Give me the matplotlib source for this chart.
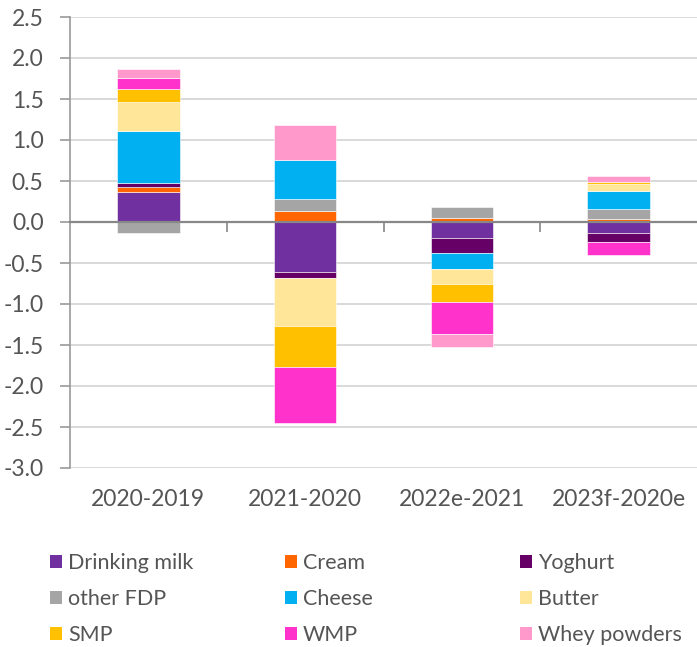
import matplotlib
matplotlib.use("Agg")
import matplotlib.pyplot as plt
from matplotlib.patches import Patch
import numpy as np

plt.rcParams['font.family'] = ['Lato', 'DejaVu Sans']

categories = ["2020-2019", "2021-2020", "2022e-2021", "2023f-2020e"]
series_names = ["Drinking milk", "Cream", "Yoghurt", "other FDP", "Cheese",
                "Butter", "SMP", "WMP", "Whey powders"]
drinking_milk = [0.37, -0.606, -0.199, -0.138]
cream = [0.057, 0.138, 0.053, 0.037]
yoghurt = [0.053, -0.081, -0.183, -0.106]
other_fdp = [-0.13, 0.139, 0.126, 0.122]
cheese = [0.63, 0.483, -0.191, 0.219]
butter = [0.353, -0.578, -0.179, 0.082]
smp = [0.155, -0.507, -0.22, 0.028]
wmp = [0.138, -0.683, -0.394, -0.158]
whey = [0.106, 0.427, -0.162, 0.077]
series_values = [drinking_milk, cream, yoghurt, other_fdp, cheese,
                 butter, smp, wmp, whey]
colors = ["#7030A0", "#FF6600", "#660066", "#A5A5A5", "#00B0F0",
          "#FFE699", "#FFC000", "#FF33CC", "#FF99CC"]
yticks = [2.5, 2.0, 1.5, 1.0, 0.5, 0.0, -0.5, -1.0, -1.5, -2.0, -2.5, -3.0]

text_color = "#555555"
fig = plt.figure(figsize=(6.97, 6.47), dpi=100)
ax = fig.add_axes([70/697, 1 - 468/647, 1 - 70/697, (468 - 17)/647])

x = np.arange(len(categories))
pos_bottom = np.zeros(len(categories))
neg_bottom = np.zeros(len(categories))
for name, vals, c in zip(series_names, series_values, colors):
    v = np.array(vals, dtype=float)
    bottoms = np.where(v >= 0, pos_bottom, neg_bottom)
    ax.bar(x, v, width=0.4, bottom=bottoms, color=c, edgecolor="white",
           linewidth=0.4, zorder=3)
    pos_bottom = pos_bottom + np.where(v >= 0, v, 0)
    neg_bottom = neg_bottom + np.where(v < 0, v, 0)

ax.set_xlim(-0.5, len(categories) - 0.5)
ax.set_ylim(-3.0, 2.5)
ax.set_yticks(yticks)
ax.set_yticklabels([f"{t:.1f}" for t in yticks])
ax.yaxis.grid(True, color="#D0D0D0", linewidth=1.1, zorder=0)
ax.set_axisbelow(True)

for s in ["top", "right"]:
    ax.spines[s].set_visible(False)
ax.spines["left"].set_color("#999999")
ax.spines["left"].set_linewidth(1.2)
ax.spines["bottom"].set_position(("data", 0))
ax.spines["bottom"].set_color("#888888")
ax.spines["bottom"].set_linewidth(1.6)
ax.spines["bottom"].set_zorder(4)

ax.set_xticks(np.arange(len(categories) - 1) + 0.5)
ax.set_xticklabels([])
ax.tick_params(axis="x", direction="out", length=7, width=1.2, color="#888888")
ax.tick_params(axis="y", direction="out", length=7, width=1.2, color="#999999",
               labelcolor=text_color, labelsize=16.5, pad=12)

sec = ax.secondary_xaxis("bottom")
sec.set_xticks(x)
sec.set_xticklabels(categories)
sec.spines["bottom"].set_visible(False)
sec.tick_params(length=0, labelcolor=text_color, labelsize=16.5, pad=15)

handles = [Patch(facecolor=c, edgecolor="none") for c in colors]
col_x = [50/697, 285/697, 520/697]
for ci in range(3):
    idx = [ci, ci + 3, ci + 6]
    leg = fig.legend([handles[i] for i in idx], [series_names[i] for i in idx],
                     loc="upper left", bbox_to_anchor=(col_x[ci], 1 - 553/647),
                     frameon=False, fontsize=15.5, handlelength=0.56,
                     handleheight=0.56, handletextpad=0.28, labelspacing=0.75,
                     borderaxespad=0, borderpad=0)
    for t in leg.get_texts():
        t.set_color(text_color)

fig.savefig("out.png", dpi=100)
